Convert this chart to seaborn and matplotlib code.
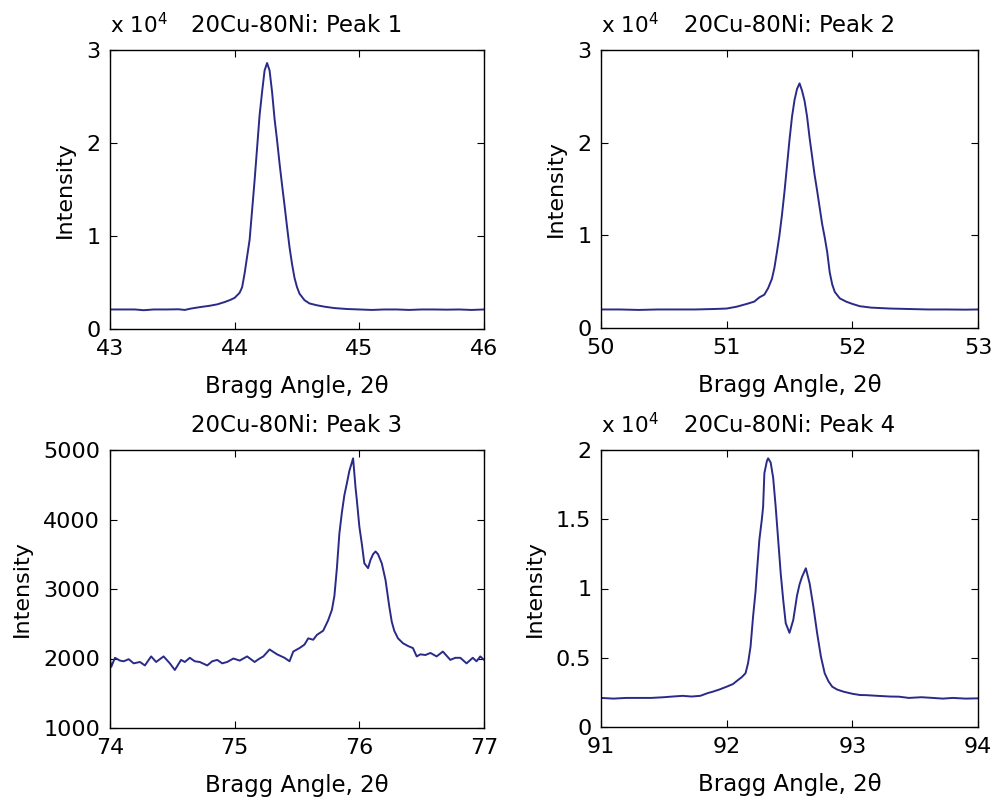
import matplotlib
matplotlib.use("Agg")
import matplotlib.pyplot as plt
import seaborn as sns
from matplotlib.ticker import FuncFormatter
from matplotlib.transforms import offset_copy

# ---------------- data ----------------
titles = ["20Cu-80Ni: Peak 1", "20Cu-80Ni: Peak 2", "20Cu-80Ni: Peak 3", "20Cu-80Ni: Peak 4"]

x1 = [43.00, 43.10, 43.20, 43.27, 43.35, 43.45, 43.55, 43.60, 43.65, 43.72,
      43.80, 43.86, 43.92, 43.96, 44.00, 44.04, 44.06, 44.08, 44.10, 44.12,
      44.14, 44.16, 44.18, 44.20, 44.22, 44.24, 44.26, 44.28, 44.30, 44.32,
      44.34, 44.36, 44.38, 44.40, 44.42, 44.44, 44.46, 44.48, 44.50, 44.52,
      44.56, 44.60, 44.66, 44.72, 44.80, 44.90, 45.00, 45.10, 45.20, 45.30,
      45.40, 45.50, 45.60, 45.70, 45.80, 45.90, 46.00]
y1 = [2100, 2100, 2100, 2020, 2100, 2100, 2120, 2050, 2200, 2350,
      2500, 2650, 2900, 3100, 3350, 3900, 4500, 6000, 7800, 9600,
      12800, 16000, 19500, 23000, 25500, 27800, 28600, 27800, 25500, 22600,
      20300, 17800, 15500, 13300, 11000, 8800, 7000, 5500, 4500, 3800,
      3100, 2750, 2550, 2400, 2250, 2150, 2100, 2050, 2100, 2100,
      2050, 2100, 2100, 2080, 2100, 2050, 2100]

x2 = [50.00, 50.15, 50.30, 50.45, 50.60, 50.75, 50.90, 51.00, 51.08, 51.16,
      51.22, 51.26, 51.30, 51.33, 51.36, 51.38, 51.40, 51.42, 51.44, 51.46,
      51.48, 51.50, 51.52, 51.54, 51.56, 51.58, 51.60, 51.62, 51.64, 51.66,
      51.68, 51.70, 51.72, 51.74, 51.76, 51.78, 51.80, 51.82, 51.84, 51.86,
      51.90, 51.95, 52.00, 52.06, 52.15, 52.30, 52.45, 52.60, 52.75, 52.90,
      53.00]
y2 = [2000, 2000, 1950, 2000, 2000, 2000, 2050, 2100, 2300, 2600,
      2850, 3300, 3600, 4300, 5300, 6500, 8200, 10000, 12200, 14700,
      17500, 20300, 22800, 24600, 25800, 26400, 25600, 24500, 22800, 20500,
      18500, 16500, 14800, 13000, 11200, 9800, 8200, 6000, 4700, 3900,
      3200, 2850, 2600, 2350, 2200, 2100, 2050, 2000, 2000, 1980,
      2000]

x3 = [74.00, 74.01, 74.04, 74.08, 74.11, 74.15, 74.19, 74.24, 74.28, 74.33,
      74.37, 74.40, 74.43, 74.48, 74.52, 74.57, 74.60, 74.64, 74.68, 74.72,
      74.78, 74.82, 74.86, 74.90, 74.94, 74.99, 75.04, 75.10, 75.16, 75.20,
      75.23, 75.28, 75.34, 75.40, 75.44, 75.47, 75.52, 75.56, 75.59, 75.63,
      75.66, 75.71, 75.75, 75.78, 75.80, 75.82, 75.84, 75.86, 75.88, 75.90,
      75.92, 75.95, 75.97, 75.98, 76.00, 76.02, 76.04, 76.07, 76.09, 76.11,
      76.13, 76.15, 76.18, 76.21, 76.24, 76.26, 76.28, 76.31, 76.35, 76.39,
      76.43, 76.46, 76.49, 76.53, 76.57, 76.62, 76.67, 76.70, 76.73, 76.77,
      76.81, 76.86, 76.91, 76.94, 76.97, 77.00]
y3 = [1980, 1880, 2010, 1970, 1960, 1990, 1930, 1950, 1900, 2030,
      1950, 1990, 2030, 1930, 1835, 1980, 1950, 2010, 1960, 1950,
      1900, 1960, 1980, 1930, 1950, 2000, 1970, 2030, 1950, 2000,
      2030, 2130, 2060, 2010, 1960, 2100, 2150, 2200, 2290, 2270,
      2340, 2400, 2550, 2700, 2900, 3300, 3800, 4100, 4350, 4520,
      4700, 4880, 4450, 4280, 3900, 3650, 3370, 3300, 3420, 3500,
      3540, 3500, 3370, 3130, 2750, 2530, 2400, 2290, 2220, 2180,
      2150, 2030, 2060, 2050, 2080, 2030, 2100, 2040, 1980, 2010,
      2010, 1930, 2010, 1960, 2030, 1980]

x4 = [91.00, 91.10, 91.20, 91.30, 91.40, 91.50, 91.57, 91.65, 91.72, 91.79,
      91.85, 91.89, 91.94, 92.00, 92.05, 92.09, 92.12, 92.15, 92.17, 92.19,
      92.21, 92.23, 92.24, 92.26, 92.28, 92.29, 92.30, 92.32, 92.33, 92.35,
      92.37, 92.39, 92.41, 92.43, 92.45, 92.47, 92.50, 92.53, 92.56, 92.58,
      92.60, 92.63, 92.66, 92.69, 92.72, 92.75, 92.78, 92.81, 92.84, 92.88,
      92.93, 93.00, 93.06, 93.11, 93.20, 93.30, 93.37, 93.45, 93.55, 93.64,
      93.72, 93.80, 93.90, 94.00]
y4 = [2100, 2050, 2100, 2100, 2100, 2150, 2200, 2250, 2200, 2250,
      2450, 2550, 2700, 2910, 3100, 3390, 3600, 3880, 4600, 5800,
      7960, 9800, 11100, 13500, 15000, 15900, 18320, 19200, 19400, 19100,
      18000, 15900, 13500, 11100, 9170, 7490, 6800, 7730, 9500, 10300,
      10850, 11460, 10370, 8690, 6770, 5080, 3880, 3300, 2910, 2700,
      2550, 2400, 2310, 2300, 2250, 2200, 2190, 2100, 2150, 2100,
      2050, 2100, 2050, 2070]

xlims = [(43, 46), (50, 53), (74, 77), (91, 94)]
ylims = [(0, 30000), (0, 30000), (1000, 5000), (0, 20000)]
yticks = [[0, 10000, 20000, 30000], [0, 10000, 20000, 30000],
          [1000, 2000, 3000, 4000, 5000], [0, 5000, 10000, 15000, 20000]]
scaled = [True, True, False, True]

# ---------------- style ----------------
sns.set_theme(style="white")
plt.rcParams['font.family'] = ['DejaVu Sans']
plt.rcParams['text.color'] = 'black'
plt.rcParams['axes.labelcolor'] = 'black'
plt.rcParams['xtick.color'] = 'black'
plt.rcParams['ytick.color'] = 'black'
plt.rcParams['axes.edgecolor'] = 'black'
plt.rcParams['axes.linewidth'] = 1.0

LINE = "#2a2a88"

fig = plt.figure(figsize=(9.95, 8.0), dpi=100)
W, H = 995, 800
boxes = [(110, 50, 484, 329), (601, 50, 978, 328),
         (110, 450, 484, 728), (601, 450, 978, 727)]
data = [(x1, y1), (x2, y2), (x3, y3), (x4, y4)]

for i, ((l, t, r, b), (xs, ys)) in enumerate(zip(boxes, data)):
    ax = fig.add_axes([l / W, 1 - b / H, (r - l) / W, (b - t) / H])
    sns.lineplot(x=xs, y=ys, ax=ax, color=LINE, linewidth=1.4,
                 estimator=None, sort=False, errorbar=None)
    ax.set_xlim(*xlims[i])
    ax.set_ylim(*ylims[i])
    lo, hi = xlims[i]
    ax.set_xticks(list(range(lo, hi + 1)))
    ax.set_yticks(yticks[i])
    if scaled[i]:
        ax.yaxis.set_major_formatter(FuncFormatter(lambda v, p: f"{v / 1e4:g}"))
        ax.text(0.0, 1.0, r"x 10$^4$",
                transform=offset_copy(ax.transAxes, fig=fig, x=0, y=12, units='points'),
                ha='left', va='baseline', fontsize=15.5)
    else:
        ax.yaxis.set_major_formatter(FuncFormatter(lambda v, p: f"{v:g}"))
    ax.tick_params(direction='in', length=5, width=0.8, top=True, right=True,
                   bottom=True, left=True, labelsize=16, pad=7)
    ax.grid(False)
    ax.set_title(titles[i], fontsize=16.5, pad=13)
    ax.set_xlabel("Bragg Angle, 2θ", fontsize=16.5, labelpad=12)
    ax.set_ylabel("Intensity", fontsize=16, labelpad=8)
    for s in ax.spines.values():
        s.set_visible(True)
        s.set_color('black')
        s.set_linewidth(1.0)

fig.savefig("out.png", dpi=100, facecolor='white')
